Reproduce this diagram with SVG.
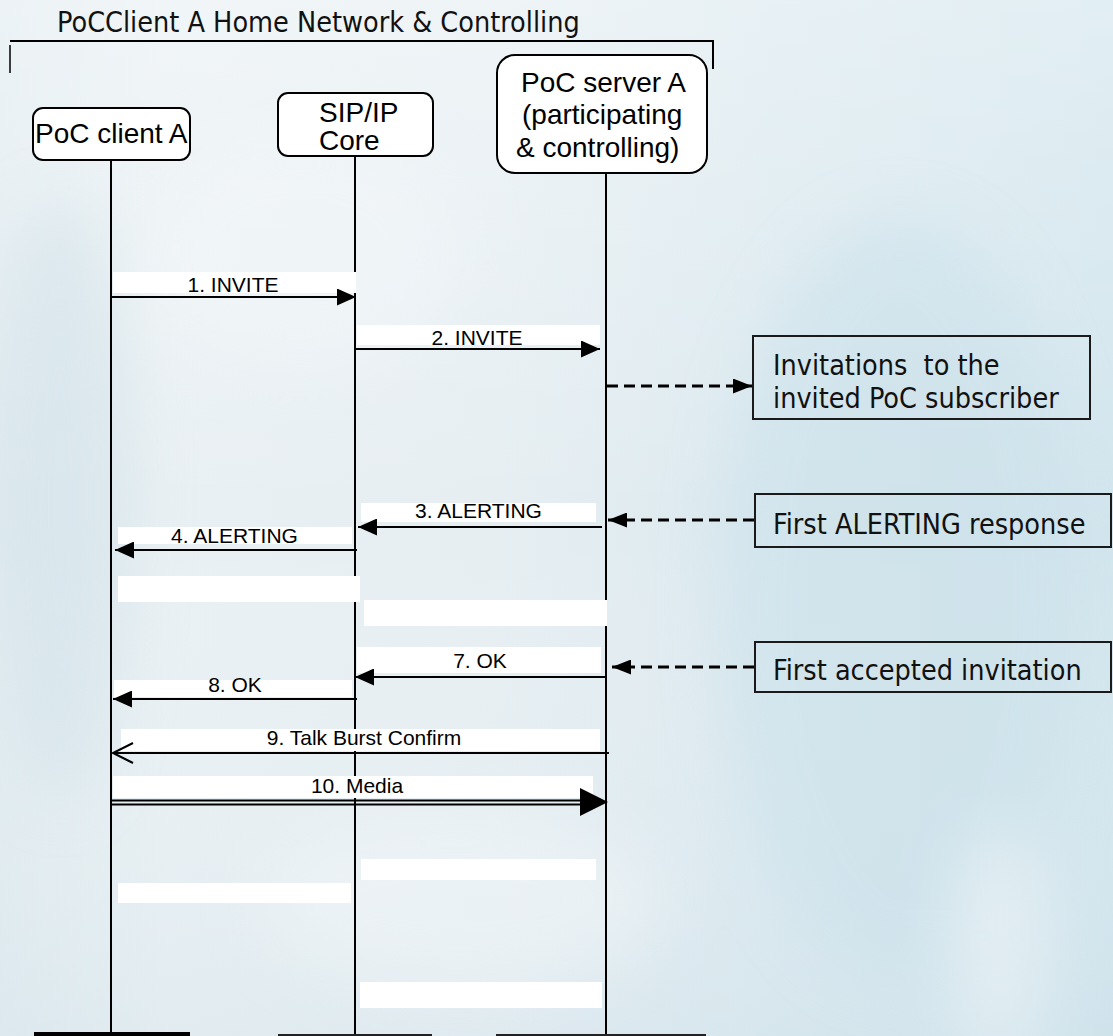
<svg xmlns="http://www.w3.org/2000/svg" width="1113" height="1036" viewBox="0 0 1113 1036">
<defs>
<linearGradient id="bgH" x1="0" y1="0" x2="1" y2="0">
<stop offset="0" stop-color="#e2ecf0"/>
<stop offset="0.15" stop-color="#e9f0f3"/>
<stop offset="0.45" stop-color="#e6eef2"/>
<stop offset="0.7" stop-color="#dbe9ef"/>
<stop offset="1" stop-color="#d2e5ed"/>
</linearGradient>
<linearGradient id="bgV" x1="0" y1="0" x2="0" y2="1">
<stop offset="0" stop-color="#ffffff" stop-opacity="0.35"/>
<stop offset="0.5" stop-color="#ffffff" stop-opacity="0"/>
<stop offset="1" stop-color="#c9dde8" stop-opacity="0.25"/>
</linearGradient>
<filter id="soft" x="-50%" y="-50%" width="200%" height="200%">
<feGaussianBlur stdDeviation="30"/>
</filter>
<marker id="ah" markerUnits="userSpaceOnUse" markerWidth="19" markerHeight="17" refX="19" refY="8.5" orient="auto">
<path d="M0,0 L19,8.5 L0,17 Z" fill="#000"/>
</marker>
<marker id="ahd" markerUnits="userSpaceOnUse" markerWidth="19" markerHeight="15" refX="19" refY="7.5" orient="auto">
<path d="M0,0 L19,7.5 L0,15 Z" fill="#000"/>
</marker>
</defs>
<style>
.box{fill:#fff;stroke:#000;stroke-width:2}
.note{fill:none;stroke:#1a1a1a;stroke-width:2}
.lt{font-family:"Liberation Sans",Arial,sans-serif;font-size:28px;fill:#000}
.nt{font-family:"DejaVu Sans Condensed","DejaVu Sans",sans-serif;font-stretch:condensed;font-size:28.5px;fill:#111;white-space:pre}
.ml{font-family:"Liberation Sans",Arial,sans-serif;font-size:21px;fill:#000;text-anchor:middle}
.lab{fill:#fff}
.life{stroke:#000;stroke-width:2;fill:none}
.msg{stroke:#000;stroke-width:2;fill:none;marker-end:url(#ah)}
.dash{stroke:#000;stroke-width:3;fill:none;stroke-dasharray:11 6;marker-end:url(#ahd)}
</style>
<rect x="0" y="0" width="1113" height="1036" fill="url(#bgH)"/>
<rect x="0" y="0" width="1113" height="1036" fill="url(#bgV)"/>
<g filter="url(#soft)" opacity="0.5">
<ellipse cx="60" cy="500" rx="70" ry="300" fill="#cfe0e8"/>
<ellipse cx="300" cy="250" rx="160" ry="120" fill="#f3f7f9"/>
<ellipse cx="460" cy="900" rx="200" ry="90" fill="#f2f6f8"/>
<ellipse cx="900" cy="600" rx="180" ry="380" fill="#c9e0ea"/>
<ellipse cx="1000" cy="950" rx="50" ry="120" fill="#eef4f7"/>
</g>

<g id="title">
<text class="nt" x="57" y="32">PoCClient A Home Network &amp; Controlling</text>
<path d="M10,41 H714 M713,41 V69" stroke="#000" stroke-width="2" fill="none"/>
<path d="M10,45 V73" stroke="#000" stroke-width="1.5" fill="none"/>
</g>

<g id="node-client">
<rect class="box" x="33" y="108" width="157" height="52" rx="10"/>
<text class="lt" x="35" y="143">PoC client A</text>
</g>
<g id="node-sip">
<rect class="box" x="278" y="93" width="155" height="63" rx="10"/>
<text class="lt" x="319" y="122">SIP/IP</text>
<text class="lt" x="319" y="150">Core</text>
</g>
<g id="node-server">
<rect class="box" x="497" y="55" width="210" height="118" rx="18"/>
<text class="lt" x="521" y="92">PoC server A</text>
<text class="lt" x="522" y="124">(participating</text>
<text class="lt" x="516" y="157">&amp; controlling)</text>
</g>

<g id="node-invitations">
<rect class="note" x="753" y="336" width="337" height="83"/>
<text class="nt" x="773" y="375">Invitations  to the</text>
<text class="nt" x="773" y="408">invited PoC subscriber</text>
</g>
<g id="node-first-alerting">
<rect class="note" x="755" y="494" width="356" height="53"/>
<text class="nt" x="773" y="534">First ALERTING response</text>
</g>
<g id="node-first-accepted">
<rect class="note" x="755" y="642" width="356" height="50"/>
<text class="nt" x="773" y="680">First accepted invitation</text>
</g>

<g id="connectors">
<line class="life" x1="111" y1="160" x2="111" y2="1036"/>
<line class="life" x1="355" y1="156" x2="355" y2="1036"/>
<line class="life" x1="606" y1="173" x2="606" y2="1036"/>
<rect x="34" y="1032" width="156" height="4" fill="#000"/>
<rect x="278" y="1034" width="154" height="2" fill="#222"/>
<rect x="496" y="1034" width="210" height="2" fill="#222"/>

<rect class="lab" x="113" y="272" width="243" height="21"/>
<text class="ml" x="233" y="292">1. INVITE</text>
<line class="msg" x1="111" y1="297" x2="356" y2="297"/>

<rect class="lab" x="357" y="325" width="243" height="20"/>
<text class="ml" x="477" y="345">2. INVITE</text>
<line class="msg" x1="355" y1="349" x2="600" y2="349"/>

<line class="dash" x1="607" y1="386" x2="752" y2="386"/>

<rect class="lab" x="361" y="503" width="235" height="19"/>
<text class="ml" x="478.5" y="518">3. ALERTING</text>
<line class="msg" x1="602" y1="527" x2="358" y2="527"/>

<line class="dash" x1="754" y1="520" x2="608" y2="520"/>

<rect class="lab" x="118" y="527" width="234" height="17"/>
<text class="ml" x="234.5" y="543">4. ALERTING</text>
<line class="msg" x1="357" y1="550" x2="115" y2="550"/>

<rect class="lab" x="118" y="576" width="242" height="26"/>
<rect class="lab" x="364" y="600" width="243" height="26"/>

<rect class="lab" x="357" y="647" width="244" height="26"/>
<text class="ml" x="480" y="668">7. OK</text>
<line class="msg" x1="606" y1="677" x2="355" y2="677"/>

<line class="dash" x1="754" y1="667" x2="612" y2="667"/>

<rect class="lab" x="114" y="680" width="238" height="17"/>
<text class="ml" x="235" y="692">8. OK</text>
<line class="msg" x1="357" y1="699" x2="113" y2="699"/>

<rect class="lab" x="121" y="729" width="479" height="22"/>
<text class="ml" x="364" y="745">9. Talk Burst Confirm</text>
<line x1="609" y1="753" x2="113" y2="753" stroke="#000" stroke-width="2"/>
<path d="M133,743 L113,753 L133,763" stroke="#000" stroke-width="2" fill="none"/>

<rect class="lab" x="113" y="776" width="480" height="22"/>
<text class="ml" x="357" y="793">10. Media</text>
<path d="M111,800.5 H590 M111,804.5 H590" stroke="#000" stroke-width="2" fill="none"/>
<path d="M580,788 L608,802 L580,816 Z" fill="#000"/>

<rect class="lab" x="361" y="859" width="235" height="21"/>
<rect class="lab" x="118" y="883" width="233" height="20"/>
<rect class="lab" x="360" y="982" width="242" height="26"/>
</g>
</svg>
